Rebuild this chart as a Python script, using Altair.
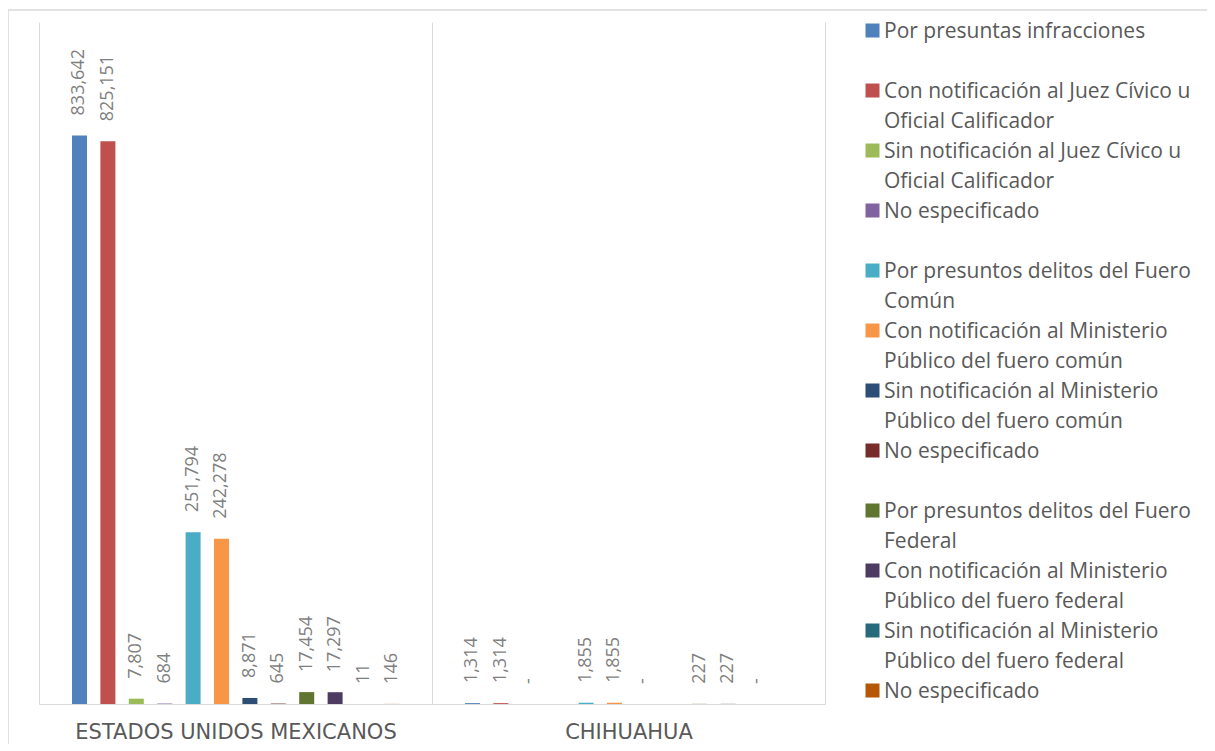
import json
import altair as alt
import pandas as pd

categorias = ["ESTADOS UNIDOS MEXICANOS", "CHIHUAHUA"]

series = [
    "Por presuntas infracciones",
    "Con notificación al Juez Cívico u Oficial Calificador",
    "Sin notificación al Juez Cívico u Oficial Calificador",
    "No especificado",
    "Por presuntos delitos del Fuero Común",
    "Con notificación al Ministerio Público del fuero común",
    "Sin notificación al Ministerio Público del fuero común",
    "No especificado",
    "Por presuntos delitos del Fuero Federal",
    "Con notificación al Ministerio Público del fuero federal",
    "Sin notificación al Ministerio Público del fuero federal",
    "No especificado",
]

# legend text as it wraps in the original
series_lineas = [
    ["Por presuntas infracciones", ""],
    ["Con notificación al Juez Cívico u", "Oficial Calificador"],
    ["Sin notificación al Juez Cívico u", "Oficial Calificador"],
    ["No especificado", ""],
    ["Por presuntos delitos del Fuero", "Común"],
    ["Con notificación al Ministerio", "Público del fuero común"],
    ["Sin notificación al Ministerio", "Público del fuero común"],
    ["No especificado", ""],
    ["Por presuntos delitos del Fuero", "Federal"],
    ["Con notificación al Ministerio", "Público del fuero federal"],
    ["Sin notificación al Ministerio", "Público del fuero federal"],
    ["No especificado", ""],
]

valores_eum = [833642, 825151, 7807, 684, 251794, 242278, 8871, 645, 17454, 17297, 11, 146]
valores_chih = [1314, 1314, 0, None, 1855, 1855, 0, None, 227, 227, 0, None]

colores = ["#4F81BD", "#C0504D", "#9BBB59", "#8064A2", "#4BACC6", "#F79646",
           "#2C4D75", "#772C2A", "#5F7530", "#4D3B62", "#276A7C", "#B65708"]

ids = [f"S{i + 1:02d}" for i in range(len(series))]

filas = []
for cat, vals in zip(categorias, [valores_eum, valores_chih]):
    for sid, nombre, v in zip(ids, series, vals):
        filas.append({"cat": cat, "serie": sid, "nombre": nombre, "valor": v})
df = pd.DataFrame(filas)

label_expr = (
    json.dumps(series_lineas, ensure_ascii=False)
    + "[indexof(" + json.dumps(ids) + ", datum.value)]"
)

x_enc = alt.X(
    "cat:N", sort=categorias, title=None,
    scale=alt.Scale(paddingInner=0, paddingOuter=0),
    axis=alt.Axis(labelAngle=0, labelFont="DejaVu Sans", labelFontSize=21,
                  labelColor="#595959", labelPadding=17, ticks=False, tickSize=0,
                  domainColor="#D9D9D9", domainWidth=1, grid=True,
                  gridColor="#D9D9D9", gridWidth=1, tickBand="extent",
                  labelLimit=500),
)
xo_enc = alt.XOffset("serie:N", sort=ids,
                     scale=alt.Scale(range=[33, 360.4], paddingInner=0.472,
                                     paddingOuter=0))
y_enc = alt.Y("valor:Q", scale=alt.Scale(domain=[0, 1000000]), axis=None)

base = alt.Chart(df)

barras = base.mark_bar().encode(
    x=x_enc, xOffset=xo_enc, y=y_enc,
    color=alt.Color(
        "serie:N", sort=ids, title=None,
        scale=alt.Scale(domain=ids, range=colores),
        legend=alt.Legend(
            orient="none", legendX=823, legendY=5, direction="vertical",
            padding=0, labelExpr=label_expr, labelFont="Open Sans",
            labelFontSize=21, labelColor="#595959", labelBaseline="alphabetic",
            labelLimit=500, labelOffset=1, symbolType="M-1,-2H1V0H-1Z",
            symbolSize=196, symbolStrokeWidth=0, symbolOpacity=1, rowPadding=8,
        ),
    ),
)

etiquetas = base.transform_filter(
    "isValid(datum.valor)"
).transform_calculate(
    etiqueta="datum.valor == 0 ? '-' : format(datum.valor, ',')"
).mark_text(
    angle=270, align="left", baseline="middle", dx=20,
    font="Open Sans", fontSize=18, color="#7F7F7F",
).encode(x=x_enc, xOffset=xo_enc, y=y_enc, text="etiqueta:N")

marco = pd.DataFrame({"k": [0]})
borde_sup = alt.Chart(marco).mark_rule(color="#D9D9D9", strokeWidth=1.5).encode(
    x=alt.value(-31), x2=alt.value(1300), y=alt.value(-12))
borde_izq = alt.Chart(marco).mark_rule(color="#D9D9D9", strokeWidth=1.5).encode(
    x=alt.value(-31), y=alt.value(-12), y2=alt.value(800))

chart = alt.layer(borde_sup, borde_izq, barras, etiquetas).properties(
    width=786, height=682,
    autosize=alt.AutoSizeParams(type="none"),
    padding={"left": 31, "top": 14, "right": 382, "bottom": 40},
    view=alt.ViewBackground(stroke="transparent", strokeWidth=0),
).configure(
    style={"guide-label": {"lineHeight": 30},
           "cell": {"stroke": "transparent", "strokeWidth": 0}}
).configure_view(
    stroke="transparent", strokeWidth=0
)

chart.save("out.html", embed_options={"renderer": "svg", "actions": False})
